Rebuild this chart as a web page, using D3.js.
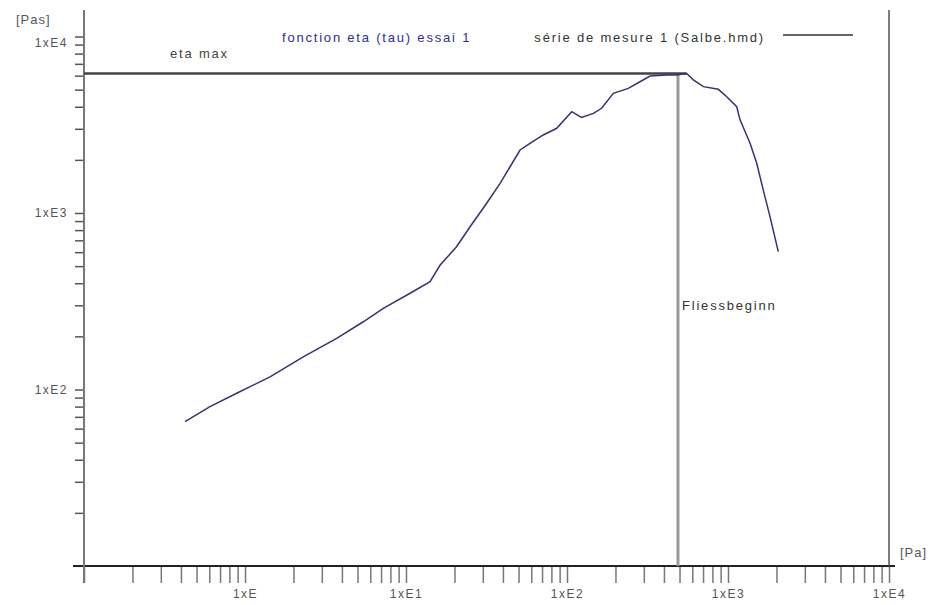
<!DOCTYPE html>
<html>
<head>
<meta charset="utf-8">
<script src="https://cdn.jsdelivr.net/npm/d3@7"></script>
<style>
  body { margin: 0; background: #fff; }
  text { font-family: "Liberation Sans", Arial, sans-serif; font-size: 13px; letter-spacing: 1.8px; }
</style>
</head>
<body>
<div id="container"></div>
<script>

// shear stress tau [Pa] and viscosity eta [Pas]
const tau = [0.424, 0.606, 0.888, 1.43, 2.30, 3.71, 5.43, 7.23, 10.6, 14.1, 16.3, 20.6, 25.0, 31.7, 38.4,
  44.3, 51.1, 58.9, 71.2, 86.3, 107, 123, 146, 164, 194, 240, 284, 328, 416, 480, 554, 609, 703,
  871, 982, 1133, 1188, 1371, 1508, 1656, 1823, 2053];
const eta = [65.7, 79.9, 95.2, 118, 153, 195, 242, 288, 351, 408, 507, 644, 836, 1135, 1472,
  1828, 2275, 2483, 2767, 3020, 3750, 3480, 3670, 3920, 4760, 5080, 5540, 5970, 6050, 6050, 6170, 5680, 5200,
  5020, 4560, 4000, 3370, 2483, 1914, 1349, 953, 604];

const fliessbeginn = 489;

const xDecades = [1, 10, 100, 1000, 10000];
const xDecadeLabels = ["1xE", "1xE1", "1xE2", "1xE3", "1xE4"];
const yDecades = [100, 1000, 10000];
const yDecadeLabels = ["1xE2", "1xE3", "1xE4"];

const width = 932, height = 605;

const x = d3.scaleLog().domain([0.1, 1e4]).range([84, 889]);
const y = d3.scaleLog().domain([10, 1e4]).range([566, 36.5]);

// all 1..9 multiples in the range
function minors(lo, hi) {
  let out = [];
  for (let p = Math.log10(lo); p < Math.log10(hi); p++)
    for (let k = 1; k < 10; k++) out.push(k * Math.pow(10, p));
  out.push(hi);
  return out;
}

const svg = d3.select("#container").append("svg")
    .attr("width", width)
    .attr("height", height);

// x axis
const xAxis = d3.axisBottom(x)
    .tickValues(minors(0.1, 1e4))
    .tickSize(17)
    .tickPadding(6)
    .tickFormat(d => {
      const i = xDecades.findIndex(v => Math.abs(v - d) / v < 1e-6);
      return i >= 0 ? xDecadeLabels[i] : "";
    });

const gx = svg.append("g")
    .attr("transform", `translate(0,${y(10)})`)
    .call(xAxis);
gx.select(".domain").remove();
gx.selectAll(".tick line").attr("stroke", "#777").attr("stroke-width", 1.5);
gx.selectAll(".tick text").attr("fill", "#555").style("font-size", "12px").style("letter-spacing", "1.5px");

svg.append("line")
    .attr("x1", 73).attr("x2", 895)
    .attr("y1", y(10)).attr("y2", y(10))
    .attr("stroke", "#222").attr("stroke-width", 2);

// y axis
const yAxis = d3.axisLeft(y)
    .tickValues(minors(10, 1e4))
    .tickSize(9)
    .tickPadding(7)
    .tickFormat(d => {
      const i = yDecades.findIndex(v => Math.abs(v - d) / v < 1e-6);
      return i >= 0 ? yDecadeLabels[i] : "";
    });

const gy = svg.append("g")
    .attr("transform", `translate(${x(0.1)},0)`)
    .call(yAxis);
gy.select(".domain").remove();
gy.selectAll(".tick line").attr("stroke", "#555").attr("stroke-width", 1.5);
gy.selectAll(".tick text").attr("fill", "#555").style("font-size", "12px").style("letter-spacing", "1.5px");
gy.selectAll(".tick").filter(d => d === 10).select("line").remove();
gy.selectAll(".tick").filter(d => d === 1e4).select("text").attr("dy", "0.85em");

svg.append("line")
    .attr("x1", x(0.1)).attr("x2", x(0.1))
    .attr("y1", 10).attr("y2", 583)
    .attr("stroke", "#777").attr("stroke-width", 2);

// right frame
svg.append("line")
    .attr("x1", x(1e4)).attr("x2", x(1e4))
    .attr("y1", 10).attr("y2", y(10))
    .attr("stroke", "#555").attr("stroke-width", 1.5);

// unit labels
svg.append("text").attr("x", 16).attr("y", 24).attr("fill", "#555").style("letter-spacing", "1px").text("[Pas]");
svg.append("text").attr("x", 900).attr("y", 557).attr("fill", "#555").style("letter-spacing", "1px").text("[Pa]");

// eta max / Fliessbeginn
const iMax = d3.maxIndex(eta);
svg.append("line")
    .attr("x1", x(fliessbeginn)).attr("x2", x(fliessbeginn))
    .attr("y1", y(eta[iMax])).attr("y2", y(10))
    .attr("stroke", "#9a9a9a").attr("stroke-width", 3);

svg.append("line")
    .attr("x1", x(0.1)).attr("x2", x(tau[iMax]))
    .attr("y1", y(eta[iMax])).attr("y2", y(eta[iMax]))
    .attr("stroke", "#444").attr("stroke-width", 2.5);

svg.append("text").attr("x", 170).attr("y", 58).attr("fill", "#444").text("eta max");
svg.append("text").attr("x", 682).attr("y", 310).attr("fill", "#333").text("Fliessbeginn");

// curve
const line = d3.line()
    .x((d, i) => x(tau[i]))
    .y(d => y(d));

svg.append("path")
    .datum(eta)
    .attr("d", line)
    .attr("fill", "none")
    .attr("stroke", "#34346e")
    .attr("stroke-width", 1.5);

// title and legend
svg.append("text").attr("x", 282).attr("y", 42).attr("fill", "#2e2e8c").text("fonction eta (tau)  essai 1");
svg.append("text").attr("x", 765).attr("y", 42).attr("text-anchor", "end").attr("fill", "#333")
    .text("série de mesure 1 (Salbe.hmd)");
svg.append("line")
    .attr("x1", 783).attr("x2", 853).attr("y1", 35).attr("y2", 35)
    .attr("stroke", "#333").attr("stroke-width", 1.3);

</script>
</body>
</html>
